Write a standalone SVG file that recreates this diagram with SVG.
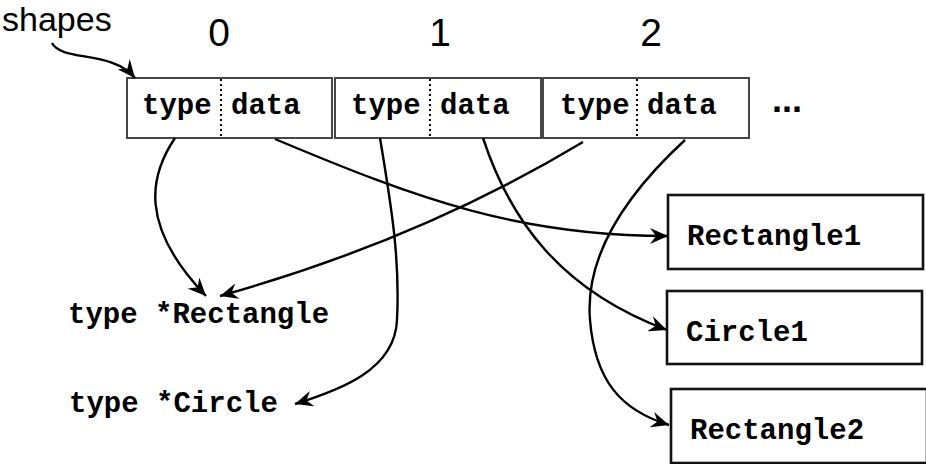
<svg xmlns="http://www.w3.org/2000/svg" width="926" height="464" viewBox="0 0 926 464">
<style>
.lbl{font-family:"Liberation Sans",Arial,sans-serif;fill:#000}
.mono{font-family:"Liberation Mono","DejaVu Sans Mono",monospace;font-weight:bold;font-size:29px;fill:#000}
.cell{fill:#fff;stroke:#333;stroke-width:1.8}
.div{stroke:#000;stroke-width:2;stroke-dasharray:2,3}
.obj{fill:#fff;stroke:#111;stroke-width:2.6}
.con{fill:none;stroke:#000;stroke-width:2.4}
</style>
<defs>
<marker id="ah" markerUnits="userSpaceOnUse" markerWidth="20" markerHeight="16" refX="18" refY="8" orient="auto">
<path d="M0,0 L18,8 L0,16 L6,8 z" fill="#000"/>
</marker>
</defs>
<rect width="926" height="464" fill="#fff"/>
<text class="lbl" x="2" y="31" font-size="34">shapes</text>
<text class="lbl" x="219" y="46" font-size="39" text-anchor="middle">0</text>
<text class="lbl" x="440" y="46" font-size="39" text-anchor="middle">1</text>
<text class="lbl" x="651" y="46" font-size="39" text-anchor="middle">2</text>
<g id="cell0">
<rect class="cell" x="127" y="78" width="205" height="60"/>
<line class="div" x1="221" y1="79" x2="221" y2="137"/>
<text class="mono" x="142" y="114">type</text>
<text class="mono" x="231" y="114">data</text>
</g>
<g id="cell1">
<rect class="cell" x="335" y="78" width="206" height="60"/>
<line class="div" x1="430" y1="79" x2="430" y2="137"/>
<text class="mono" x="351" y="114">type</text>
<text class="mono" x="440" y="114">data</text>
</g>
<g id="cell2">
<rect class="cell" x="543" y="78" width="206" height="60"/>
<line class="div" x1="637" y1="79" x2="637" y2="137"/>
<text class="mono" x="560" y="114">type</text>
<text class="mono" x="647" y="114">data</text>
</g>
<text class="lbl" x="772" y="112" font-size="36" font-weight="bold">...</text>
<g id="rect1">
<rect class="obj" x="668" y="195" width="255" height="74"/>
<text class="mono" x="687" y="245">Rectangle1</text>
</g>
<g id="circle1">
<rect class="obj" x="667" y="291" width="255" height="73"/>
<text class="mono" x="686" y="341">Circle1</text>
</g>
<g id="rect2">
<rect class="obj" x="671" y="389" width="256" height="74"/>
<text class="mono" x="690" y="439">Rectangle2</text>
</g>
<g id="typeRect">
<text class="mono" x="68" y="323">type *Rectangle</text>
</g>
<g id="typeCircle">
<text class="mono" x="69" y="412">type *Circle</text>
</g>
<g id="connectors">
<path class="con" marker-end="url(#ah)" d="M52,43 C62,62 112,50 135,78"/>
<path class="con" marker-end="url(#ah)" d="M175,138 C150,175 138,225 206,296"/>
<path class="con" marker-end="url(#ah)" d="M275,139 C420,200 520,236 668,236"/>
<path class="con" marker-end="url(#ah)" d="M583,142 Q420,240 220,296"/>
<path class="con" marker-end="url(#ah)" d="M380,138 C392,210 400,260 397,320 C395,370 340,390 295,404"/>
<path class="con" marker-end="url(#ah)" d="M483,138 C510,220 560,290 667,330"/>
<path class="con" marker-end="url(#ah)" d="M685,140 C620,200 585,260 590,320 C595,380 620,410 669,425"/>
</g>
</svg>
